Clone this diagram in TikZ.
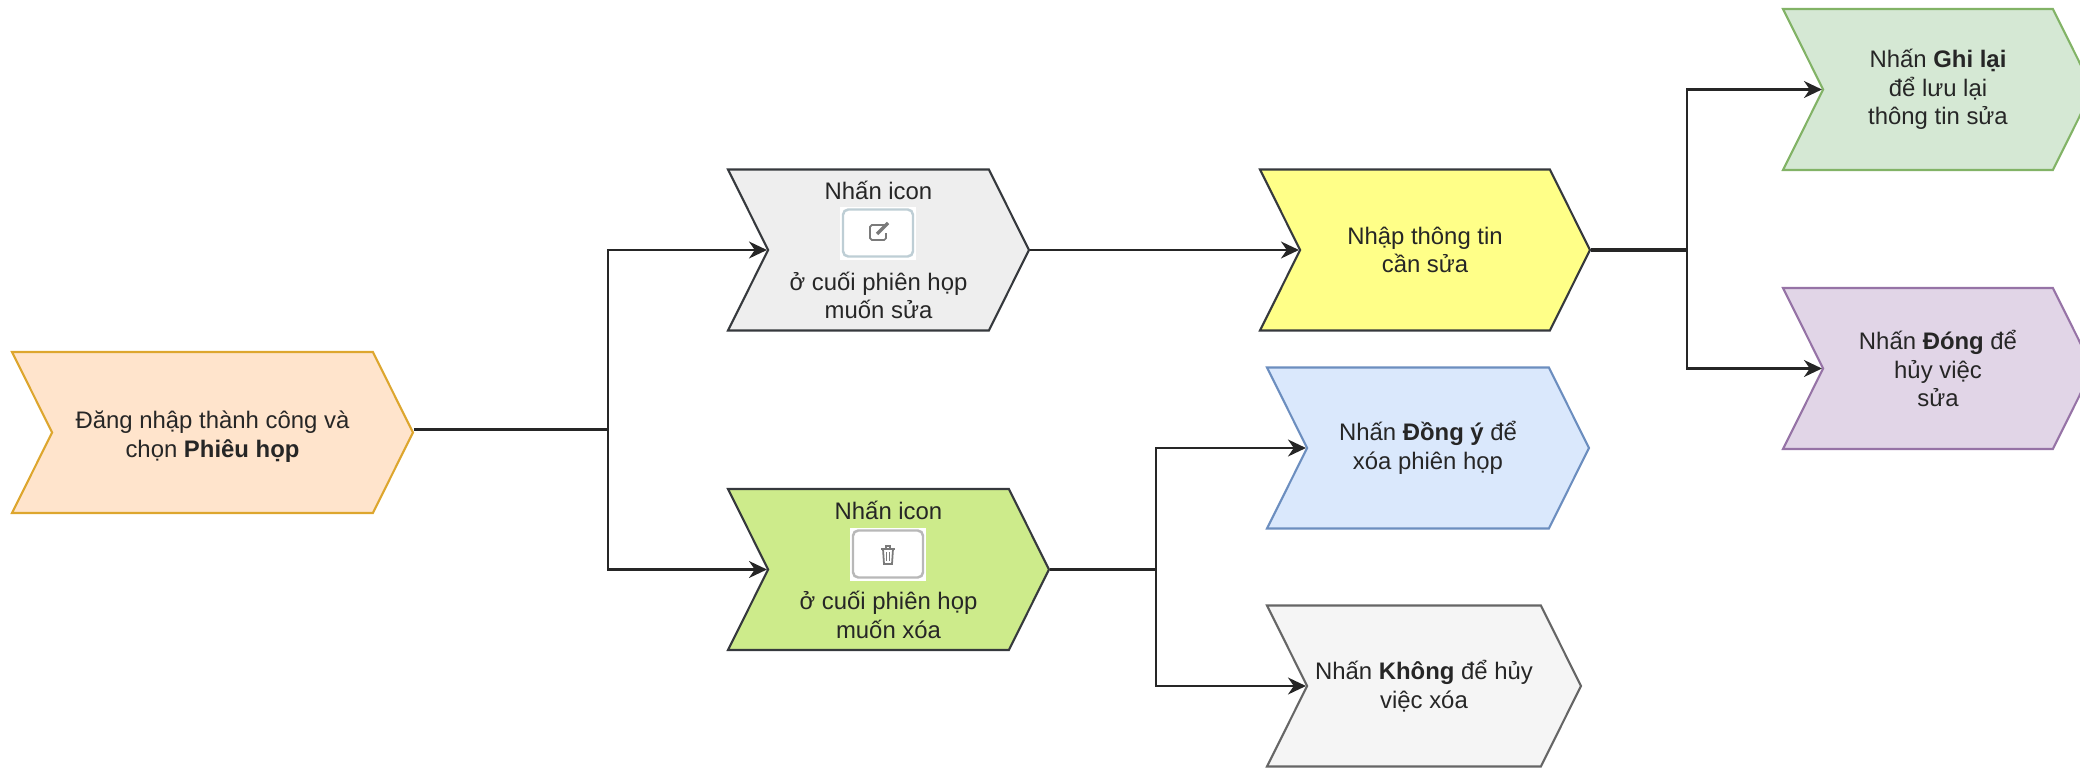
\documentclass[tikz,border=0pt]{standalone}
\usepackage{fontspec}
\setmainfont{Liberation Sans}
\usepackage{xcolor}
\usetikzlibrary{shapes.symbols,arrows.meta}
\definecolor{orangefill}{HTML}{FFE4CC}
\definecolor{orangeline}{HTML}{DDA62E}
\definecolor{darkline}{HTML}{36393D}
\definecolor{editfill}{HTML}{EEEEEE}
\definecolor{delfill}{HTML}{CDEB8B}
\definecolor{inputfill}{HTML}{FFFF88}
\definecolor{bluefill}{HTML}{DAE8FC}
\definecolor{blueline}{HTML}{6C8EBF}
\definecolor{greyfill}{HTML}{F5F5F5}
\definecolor{greenfill}{HTML}{D5E8D4}
\definecolor{greenline}{HTML}{82B366}
\definecolor{purplefill}{HTML}{E1D5E7}
\definecolor{purpleline}{HTML}{9673A6}
\definecolor{glyphgrey}{HTML}{7A7A7A}
\tikzset{chev/.style={signal,signal from=west,signal to=east,signal pointer angle=127,draw,
    minimum height=1.61cm,inner sep=0pt,line width=0.6pt,align=center,
    font=\fontsize{6.8}{8.1}\selectfont,text=black!85}}
\tikzset{link/.style={line width=0.6pt,black!85}}
\tikzset{stem/.style={line width=1.1pt,black!85}}
\tikzset{iconback/.style={fill=white,minimum width=0.76cm,minimum height=0.53cm,inner sep=0pt}}
\tikzset{iconbox/.style={draw,fill=white,rounded corners=1.5pt,line width=0.7pt,minimum width=0.7cm,minimum height=0.47cm,inner sep=0pt}}
\tikzset{glyph/.style={glyphgrey,line width=0.5pt}}

\begin{document}
\begin{tikzpicture}[>={Stealth[length=1.8mm,width=1.7mm]}]
    \useasboundingbox (0,0) rectangle (20.8,7.67);

    \node[chev,minimum width=4.01cm,fill=orangefill,draw=orangeline] (login) at (2.125,3.345) {\rule{0pt}{0.26cm}Đăng nhập thành công và\\chọn \textbf{Phiêu họp}};
    \node[chev,minimum width=3.01cm,fill=editfill,draw=darkline] (edit) at (8.785,5.17) {Nhấn icon\\[0.62cm]ở cuối phiên họp\\muốn sửa};
    \node[chev,minimum width=3.21cm,fill=delfill,draw=darkline] (del) at (8.885,1.975) {Nhấn icon\\[0.62cm]ở cuối phiên họp\\muốn xóa};
    \node[chev,minimum width=3.3cm,fill=inputfill,draw=darkline] (input) at (14.25,5.17) {Nhập thông tin\\cần sửa};
    \node[chev,minimum width=3.22cm,fill=bluefill,draw=blueline] (agree) at (14.28,3.19) {Nhấn \textbf{Đồng ý} để\\xóa phiên họp};
    \node[chev,minimum width=3.14cm,fill=greyfill,draw=black!60] (cancel) at (14.24,0.81) {Nhấn \textbf{Không} để hủy\\việc xóa};
    \node[chev,minimum width=3.1cm,fill=greenfill,draw=greenline] (save) at (19.38,6.775) {Nhấn \textbf{Ghi lại}\\để lưu lại\\thông tin sửa};
    \node[chev,minimum width=3.1cm,fill=purplefill,draw=purpleline] (quit) at (19.38,3.985) {Nhấn \textbf{Đóng} để\\hủy việc\\sửa};

    \node[iconback] (editback) at (8.78,5.34) {};
    \node[iconbox,draw=cyan!40!black!30] (editicon) at (8.78,5.34) {};
    \node[iconback] (delback) at (8.88,2.13) {};
    \node[iconbox,draw=black!28] (delicon) at (8.88,2.13) {};

    % pencil in a box
    \draw [glyph,rounded corners=0.5pt] (8.87,5.42) -- (8.70,5.42) -- (8.70,5.27) -- (8.86,5.27) -- (8.86,5.34);
    \draw [glyph,line width=1pt] (8.77,5.33) -- (8.88,5.44);
    % bin
    \draw [glyph] (8.81,2.18) -- (8.95,2.18);
    \draw [glyph] (8.83,2.18) -- (8.84,2.03) -- (8.92,2.03) -- (8.93,2.18);
    \draw [glyph] (8.86,2.18) -- (8.86,2.21) -- (8.90,2.21) -- (8.90,2.18);
    \draw [glyph,line width=0.3pt] (8.865,2.15) -- (8.865,2.06) (8.895,2.15) -- (8.895,2.06);

    \coordinate (loginfork) at (6.08,3.375);
    \coordinate (delfork) at (11.56,1.975);
    \coordinate (inputfork) at (16.87,5.17);

    \draw [stem] ([yshift=0.03cm]login.east) to (loginfork);
    \draw [link,->] (loginfork) |- (edit.west);
    \draw [link,->] (loginfork) |- (del.west);
    \draw [link,->] (edit.east) to (input.west);
    \draw [stem] (del.east) to (delfork);
    \draw [link,->] (delfork) |- (agree.west);
    \draw [link,->] (delfork) |- (cancel.west);
    \draw [stem] (input.east) to (inputfork);
    \draw [link,->] (inputfork) |- (save.west);
    \draw [link,->] (inputfork) |- (quit.west);
\end{tikzpicture}
\end{document}
